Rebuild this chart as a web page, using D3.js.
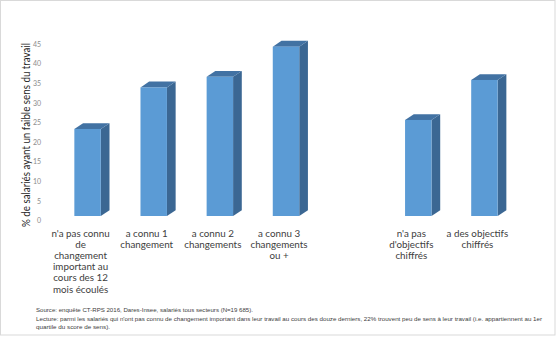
<!DOCTYPE html>
<html>
<head>
<meta charset="utf-8">
<script src="https://cdn.jsdelivr.net/npm/d3@7"></script>
<style>
  html, body { margin: 0; padding: 0; background: #ffffff; }
  svg { display: block; }
</style>
</head>
<body>
<svg id="chart" width="556" height="338"></svg>
<script>
// Share of employees reporting a weak sense of meaning at work
const categories = [
  "n'a pas connu de changement important au cours des 12 mois écoulés",
  "a connu 1 changement",
  "a connu 2 changements",
  "a connu 3 changements ou +",
  "n'a pas d'objectifs chiffrés",
  "a des objectifs chiffrés"
];
const values = [22.2, 32.8, 35.5, 43.2, 24.5, 34.7];
const labelLines = [
  ["n'a pas connu", "de", "changement", "important au", "cours des 12", "mois écoulés"],
  ["a connu 1", "changement"],
  ["a connu 2", "changements"],
  ["a connu 3", "changements", "ou +"],
  ["n'a pas", "d'objectifs", "chiffrés"],
  ["a des objectifs", "chiffrés"]
];
const tickValues = [0, 5, 10, 15, 20, 25, 30, 35, 40, 45];
const axisTitle = "% de salariés ayant un faible sens du travail";
const sourceLines = [
  "Source: enquête CT-RPS 2016, Dares-Insee, salariés tous secteurs (N=19 685).",
  "Lecture: parmi les salariés qui n'ont pas connu de changement important dans leur travail au cours des douze derniers, 22% trouvent peu de sens à leur travail (i.e. appartiennent au 1er",
  "quartile du score de sens)."
];

const svg = d3.select("#chart");
const W = 556, H = 338;

// outer frame
svg.append("rect")
  .attr("x", 0.5).attr("y", 0.5)
  .attr("width", W - 1.5).attr("height", 334.5)
  .attr("fill", "#ffffff")
  .attr("stroke", "#d9d9d9");

// a blank slot separates the two groups of columns
const GAP = "__gap__";
const domain = [...categories.slice(0, 4), GAP, ...categories.slice(4)];
const x = d3.scaleBand().domain(domain).range([54.5, 517.5]).padding(0);
const y = d3.scaleLinear().domain([0, 45]).range([216, 39.6]);

const barW = x.bandwidth() * 0.4;
const depthX = 8.7, depthY = -5.8;

// value axis labels (no line, no gridlines)
const axis = d3.axisLeft(y).tickValues(tickValues).tickSize(0).tickPadding(0);
const gAxis = svg.append("g")
  .attr("transform", "translate(41,4.4)")
  .call(axis);
gAxis.select(".domain").remove();
gAxis.selectAll("text")
  .attr("font-family", "Lato, 'Open Sans', sans-serif")
  .attr("font-size", 7)
  .attr("fill", "#8c8c8c");

// 3D columns
const bars = svg.append("g").selectAll("g.bar")
  .data(categories.map((c, i) => ({ c, v: values[i] })))
  .join("g").attr("class", "bar");

bars.each(function(d) {
  const g = d3.select(this);
  const cx = x(d.c) + x.bandwidth() / 2;
  const x0 = cx - barW / 2, x1 = cx + barW / 2;
  const yTop = y(d.v), yBot = y(0);
  // side face
  g.append("path")
    .attr("d", `M${x1},${yTop} L${x1 + depthX},${yTop + depthY} L${x1 + depthX},${yBot + depthY} L${x1},${yBot} Z`)
    .attr("fill", "#3b6793");
  // top face
  g.append("path")
    .attr("d", `M${x0},${yTop} L${x0 + depthX},${yTop + depthY} L${x1 + depthX},${yTop + depthY} L${x1},${yTop} Z`)
    .attr("fill", "#4272a3");
  // front face
  g.append("rect")
    .attr("x", x0).attr("y", yTop)
    .attr("width", barW).attr("height", yBot - yTop)
    .attr("fill", "#5b9bd5");
});

// category labels
const labels = svg.append("g").selectAll("text.cat")
  .data(categories.map((c, i) => ({ c, lines: labelLines[i] })))
  .join("text")
  .attr("class", "cat")
  .attr("text-anchor", "middle")
  .attr("font-family", "Lato, 'Open Sans', sans-serif")
  .attr("font-size", 9.8)
  .attr("fill", "#404040")
  .attr("transform", d => `translate(${x(d.c) + x.bandwidth() / 2 - 7},237)`);
labels.selectAll("tspan")
  .data(d => d.lines)
  .join("tspan")
  .attr("x", 0)
  .attr("y", (t, i) => i * 11.1)
  .text(t => t);

// axis title
svg.append("text")
  .attr("transform", "translate(30,135) rotate(-90)")
  .attr("text-anchor", "middle")
  .attr("font-family", "Lato, 'Open Sans', sans-serif")
  .attr("font-size", 11.5)
  .attr("fill", "#262626")
  .attr("textLength", 184)
  .attr("lengthAdjust", "spacingAndGlyphs")
  .text(axisTitle);

// source and reading note
const noteLen = [217, 506, 74];
svg.append("g").selectAll("text.note")
  .data(sourceLines)
  .join("text")
  .attr("class", "note")
  .attr("x", 36)
  .attr("y", (d, i) => 312 + i * 8.6)
  .attr("font-family", "'Liberation Sans', Arial, sans-serif")
  .attr("font-size", 6.2)
  .attr("fill", "#404040")
  .attr("textLength", (d, i) => noteLen[i])
  .attr("lengthAdjust", "spacingAndGlyphs")
  .text(d => d);
</script>
</body>
</html>
